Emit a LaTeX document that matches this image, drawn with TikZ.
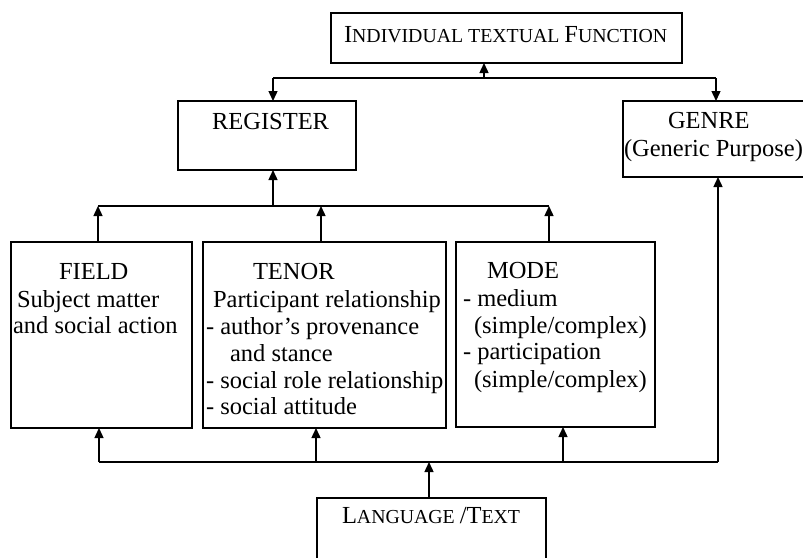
\documentclass[tikz,border=0pt]{standalone}
\usepackage{fontspec}
\setmainfont{Liberation Serif}
\usetikzlibrary{arrows.meta}
\newcommand\bigf{\fontsize{24.5}{28}\selectfont}
\newcommand\smc[1]{{\fontsize{19.8}{20}\selectfont #1}}
\begin{document}
\begin{tikzpicture}[x=1pt,y=-1pt,
  box/.style={draw,line width=1.5pt,anchor=north west,inner sep=0pt,outer sep=0pt},
  txt/.style={anchor=base west,inner sep=0pt,outer sep=0pt,font=\bigf},
  conn/.style={line width=1.4pt},
  arr/.style={line width=1.4pt,-{Triangle[length=10pt,width=9pt]}}]
\useasboundingbox (0,0) rectangle (803,557);
\clip (0,0) rectangle (803,557);
% boxes
\node[box,minimum width=351pt,minimum height=50pt] (itf) at (331,13) {};
\node[box,minimum width=178pt,minimum height=69pt] (register) at (178,101) {};
\node[box,minimum width=190pt,minimum height=76pt] (genre) at (623,101) {};
\node[box,minimum width=181pt,minimum height=186pt] (field) at (11,242) {};
\node[box,minimum width=243pt,minimum height=186pt] (tenor) at (203,242) {};
\node[box,minimum width=199pt,minimum height=185pt] (mode) at (456,242) {};
\node[box,minimum width=229pt,minimum height=80pt] (lang) at (317,498) {};
% texts
\node[txt] (itft) at (344,42) {I\smc{NDIVIDUAL TEXTUAL }F\smc{UNCTION}};
\node[txt] (regt) at (212,129) {REGISTER};
\node[txt] (gent1) at (668,128) {GENRE};
\node[txt] (gent2) at (624,156) {(Generic Purpose)};
\node[txt] (fie1) at (59,279) {FIELD};
\node[txt] (fie2) at (17,307) {Subject matter};
\node[txt] (fie3) at (13,333) {and social action};
\node[txt] (ten1) at (253,279) {TENOR};
\node[txt] (ten2) at (213,307) {Participant relationship};
\node[txt] (ten3) at (206,334) {- author's provenance};
\node[txt] (ten4) at (230,361) {and stance};
\node[txt] (ten5) at (206,388) {- social role relationship};
\node[txt] (ten6) at (206,414) {- social attitude};
\node[txt] (mod1) at (487,278) {MODE};
\node[txt] (mod2) at (463,306) {- medium};
\node[txt] (mod3) at (474,333) {(simple/complex)};
\node[txt] (mod4) at (463,359) {- participation};
\node[txt] (mod5) at (474,387) {(simple/complex)};
\node[txt] (langt) at (342,523) {L\smc{ANGUAGE }/T\smc{EXT}};
% junction coordinates
\coordinate (ta) at (273,78);
\coordinate (tb) at (716,78);
\coordinate (tm) at (484,78);
\coordinate (ma) at (98,206);
\coordinate (mr) at (273,206);
\coordinate (mt) at (321,206);
\coordinate (mb) at (549,206);
\coordinate (ba) at (99,462);
\coordinate (bt) at (316,462);
\coordinate (bl) at (429,462);
\coordinate (bm) at (563,462);
\coordinate (bg) at (718,462);
% top level
\draw[conn] (ta) -- (tb);
\draw[arr] (tm) -- (tm |- itf.south);
\draw[arr] (ta) -- (ta |- register.north);
\draw[arr] (tb) -- (tb |- genre.north);
% middle level
\draw[conn] (ma) -- (mb);
\draw[arr] (mr) -- (mr |- register.south);
\draw[arr] (ma |- field.north) -- (ma);
\draw[arr] (mt |- tenor.north) -- (mt);
\draw[arr] (mb |- mode.north) -- (mb);
% bottom level
\draw[conn] (ba) -- (bg);
\draw[arr] (bg) -- (bg |- genre.south);
\draw[arr] (ba) -- (ba |- field.south);
\draw[arr] (bt) -- (bt |- tenor.south);
\draw[arr] (bm) -- (bm |- mode.south);
\draw[arr] (bl |- lang.north) -- (bl);
\end{tikzpicture}
\end{document}
